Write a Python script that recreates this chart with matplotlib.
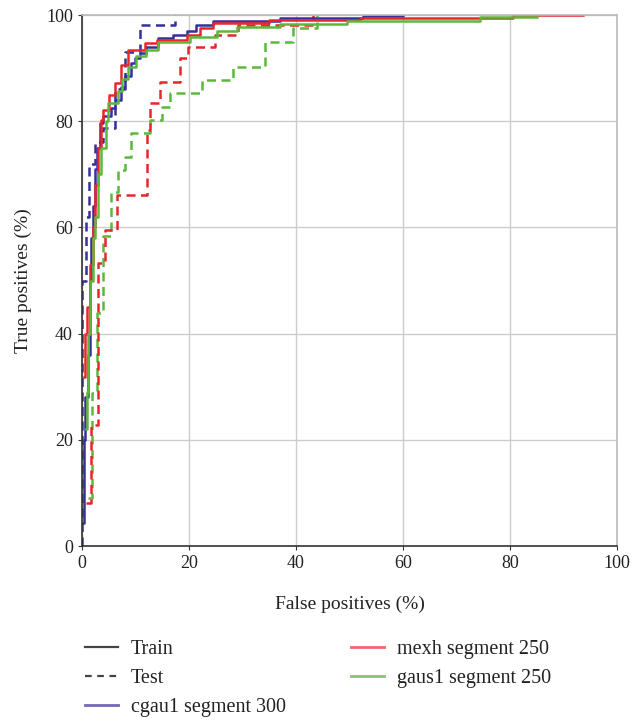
import matplotlib.pyplot as plt
from matplotlib.lines import Line2D

plt.rcParams['font.family'] = ['Liberation Serif', 'DejaVu Serif']

# ROC points (false positive %, true positive %), drawn as steps
cgau1_train_fp = [0.2, 0.3, 0.5, 1.1, 1.5, 1.7, 2.0, 2.4, 2.8, 3.3, 4.0, 5.5, 6.2, 7.3, 8.0, 9.2, 10.0, 10.8, 12.0, 14.2, 17.0, 19.6, 21.4, 24.5, 37.0, 52.5, 60.0]
cgau1_train_tp = [4.3, 20.0, 28.0, 36.0, 50.0, 58.0, 64.0, 71.0, 75.0, 79.6, 81.0, 82.4, 84.0, 86.5, 88.5, 90.9, 92.0, 92.8, 94.0, 95.6, 96.2, 96.9, 98.1, 98.8, 99.4, 99.8, 100.0]

mexh_train_fp = [0.3, 0.6, 1.0, 1.5, 2.0, 2.5, 3.0, 3.5, 3.9, 5.0, 6.1, 7.3, 8.6, 11.7, 14.0, 19.6, 22.0, 24.5, 35.0, 52.0, 80.6, 93.6]
mexh_train_tp = [31.8, 40.0, 45.0, 53.0, 60.0, 68.0, 75.0, 80.2, 82.1, 85.0, 87.2, 90.5, 93.4, 94.7, 95.3, 96.2, 97.5, 98.5, 99.0, 99.5, 100.0, 100.0]

gaus1_train_fp = [0.8, 1.0, 1.2, 1.5, 2.0, 2.4, 3.0, 3.5, 4.5, 4.9, 6.7, 7.5, 8.6, 10.1, 12.0, 14.2, 20.2, 25.2, 28.9, 37.0, 49.5, 74.4, 85.0]
gaus1_train_tp = [22.0, 29.0, 40.0, 50.0, 58.0, 62.0, 70.0, 75.0, 80.0, 83.4, 85.6, 88.0, 90.3, 92.2, 93.5, 94.9, 95.9, 96.9, 97.8, 98.4, 98.8, 99.7, 99.7]

cgau1_test_fp = [0.0, 0.0, 0.8, 1.4, 2.5, 3.9, 6.1, 8.0, 10.8, 17.4]
cgau1_test_tp = [0.0, 50.0, 62.0, 72.0, 76.0, 78.7, 86.0, 93.1, 98.1, 100.0]

mexh_test_fp = [0.7, 1.7, 3.0, 4.3, 6.5, 12.1, 12.7, 14.6, 18.3, 19.8, 24.9, 29.2, 43.2]
mexh_test_tp = [8.1, 22.8, 53.3, 59.5, 66.1, 78.3, 83.4, 87.3, 91.9, 94.0, 96.2, 98.1, 100.0]

gaus1_test_fp = [1.1, 1.8, 2.9, 3.9, 5.5, 6.7, 8.0, 9.2, 12.7, 14.9, 16.4, 22.4, 28.3, 34.3, 39.5, 44.0]
gaus1_test_tp = [9.0, 28.8, 43.9, 58.3, 66.7, 70.8, 73.3, 77.7, 80.2, 82.7, 85.3, 87.8, 90.3, 95.0, 97.5, 100.0]

blue = '#35309a'
red = '#e8262a'
green = '#5cb83a'

fig = plt.figure(figsize=(6.32, 7.23), dpi=100)
ax = fig.add_axes([0.1297, 0.2448, 0.8465, 0.7344])

dash = (0, (3.6, 2.2))
lw = 1.8
ax.plot(gaus1_test_fp, gaus1_test_tp, drawstyle='steps-post', color=green, lw=lw, ls=dash)
ax.plot(mexh_test_fp, mexh_test_tp, drawstyle='steps-post', color=red, lw=lw, ls=dash)
ax.plot(cgau1_test_fp, cgau1_test_tp, drawstyle='steps-post', color=blue, lw=lw, ls=dash)
ax.plot(cgau1_train_fp, cgau1_train_tp, drawstyle='steps-post', color=blue, lw=lw)
ax.plot(mexh_train_fp, mexh_train_tp, drawstyle='steps-post', color=red, lw=lw)
ax.plot(gaus1_train_fp, gaus1_train_tp, drawstyle='steps-post', color=green, lw=lw)

ax.set_xlim(0, 100)
ax.set_ylim(0, 100)
ax.set_xticks(range(0, 101, 20))
ax.set_yticks(range(0, 101, 20))
ax.grid(True, color='#cccccc', lw=1)
ax.set_axisbelow(True)
for s in ['top', 'right']:
    ax.spines[s].set_color('#bbbbbb')
    ax.spines[s].set_linewidth(1.2)
for s in ['left', 'bottom']:
    ax.spines[s].set_color('#333333')
    ax.spines[s].set_linewidth(1.2)
ax.tick_params(labelsize=13, length=3, color='#333333', colors='#222222')
ax.set_xlabel('False positives (%)', fontsize=14, color='#222222', labelpad=17)
ax.set_ylabel('True positives (%)', fontsize=14, color='#222222', labelpad=10)

h1 = [Line2D([], [], color='#444444', lw=1.6),
      Line2D([], [], color='#444444', lw=1.6, ls=(0, (3, 2.5))),
      Line2D([], [], color='#7468b8', lw=2)]
l1 = ['Train', 'Test', 'cgau1 segment 300']
h2 = [Line2D([], [], color='#f06868', lw=2),
      Line2D([], [], color='#80c870', lw=2)]
l2 = ['mexh segment 250', 'gaus1 segment 250']

kw = dict(frameon=False, fontsize=14.5, handlelength=1.65, handletextpad=0.65,
          labelspacing=0.5, borderaxespad=0, borderpad=0, labelcolor='#222222')
fig.legend(h1, l1, loc='upper left', bbox_to_anchor=(0.134, 0.115), **kw)
fig.legend(h2, l2, loc='upper left', bbox_to_anchor=(0.555, 0.115), **kw)

plt.savefig('out.png')
